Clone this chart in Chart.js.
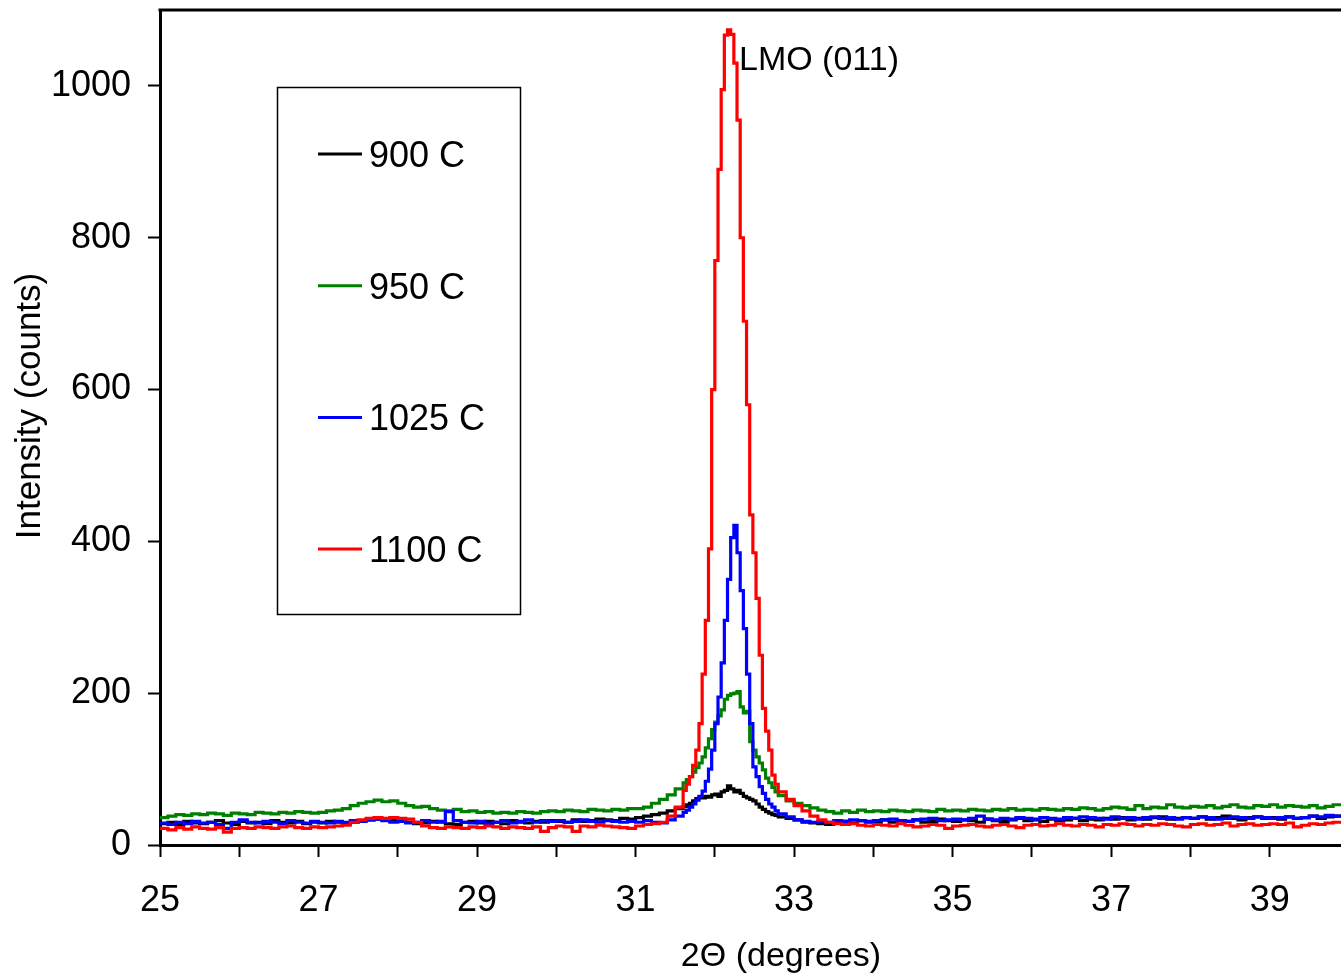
<!DOCTYPE html>
<html><head><meta charset="utf-8">
<script src="https://cdn.jsdelivr.net/npm/chart.js@4.4.0/dist/chart.umd.min.js"></script>
<style>html,body{margin:0;padding:0;background:#fff;overflow:hidden}canvas{display:block}</style>
</head><body>
<canvas id="c" width="1341" height="976"></canvas>
<script>
// 2-theta positions (degrees)
const twoTheta = [
  25.0,25.1,25.2,25.3,25.4,25.5,25.6,25.7,25.8,25.9,
  26.0,26.1,26.2,26.3,26.4,26.5,26.6,26.7,26.8,26.9,
  27.0,27.1,27.2,27.3,27.4,27.5,27.6,27.7,27.8,27.9,
  28.0,28.1,28.2,28.3,28.4,28.5,28.6,28.7,28.8,28.9,
  29.0,29.1,29.2,29.3,29.4,29.5,29.6,29.7,29.8,29.9,
  30.0,30.1,30.2,30.3,30.4,30.5,30.6,30.7,30.8,30.9,
  31.0,31.1,31.2,31.3,31.4,31.5,
  31.60,31.64,31.68,31.72,31.76,31.80,31.84,31.88,31.92,31.96,
  32.00,32.04,32.08,32.12,32.16,32.20,32.24,32.28,32.32,32.36,
  32.40,32.44,32.48,32.52,32.56,32.60,32.64,32.68,32.72,32.76,32.80,
  32.9,33.0,33.1,33.2,33.3,33.4,33.5,33.6,33.7,33.8,33.9,
  34.0,34.1,34.2,34.3,34.4,34.5,34.6,34.7,34.8,34.9,
  35.0,35.1,35.2,35.3,35.4,35.5,35.6,35.7,35.8,35.9,
  36.0,36.1,36.2,36.3,36.4,36.5,36.6,36.7,36.8,36.9,
  37.0,37.1,37.2,37.3,37.4,37.5,37.6,37.7,37.8,37.9,
  38.0,38.1,38.2,38.3,38.4,38.5,38.6,38.7,38.8,38.9,
  39.0,39.1,39.2,39.3,39.4,39.5,39.6,39.7,39.8,39.9
];

const seriesNames = ['900 C', '950 C', '1025 C', '1100 C'];
const seriesColors = ['#000000', '#008000', '#0000ff', '#ff0000'];

const counts900 = [
  28,30,27,31,29,28,30,32,29,27,
  31,29,30,28,32,30,29,31,28,30,
  29,31,30,28,30,32,33,34,33,32,
  31,30,28,29,31,30,28,27,30,31,
  29,31,30,28,32,30,29,31,30,32,
  31,30,33,31,32,34,33,32,35,34,
  36,38,40,42,45,48,
  51,53,55,58,61,63,62,64,63,66,
  67,64,70,72,78,74,70,72,68,64,
  62,60,58,54,50,47,44,42,40,39,37,
  35,33,30,29,28,27,30,31,29,32,30,
  31,33,30,32,31,33,30,31,34,32,
  31,33,32,30,34,32,31,33,35,32,
  33,31,34,32,33,35,32,34,33,35,
  34,36,33,35,34,36,37,34,35,36,
  35,37,34,36,38,35,33,36,37,35,
  36,34,37,35,36,38,35,37,38,40
];

const counts950 = [
  36,38,40,39,41,40,42,41,39,42,
  41,40,43,42,41,43,42,44,43,42,
  43,45,46,48,52,55,57,59,57,58,
  55,52,50,51,48,46,45,47,44,45,
  43,44,42,43,42,44,43,42,44,45,
  44,46,45,44,47,46,45,47,46,48,
  48,50,55,60,66,74,
  82,86,90,96,102,108,116,128,140,152,
  162,170,178,192,197,199,200,202,182,174,
  176,136,125,116,108,99,88,82,76,70,65,
  58,55,52,49,46,44,42,45,43,46,44,
  45,44,46,45,44,46,45,44,47,45,
  46,45,47,46,45,47,46,48,46,47,
  46,48,47,46,48,47,49,48,46,48,
  50,49,47,52,48,50,49,53,50,49,
  51,50,52,49,51,53,50,49,52,51,
  53,50,52,51,50,52,49,51,53,55
];

const counts1025 = [
  29,27,30,28,31,29,30,27,22,30,
  33,30,29,31,30,28,32,30,29,31,
  30,29,31,30,32,31,33,34,32,30,
  31,29,30,32,30,31,44,32,30,29,
  31,28,30,32,29,31,33,30,32,31,
  32,30,31,33,31,30,32,31,30,31,
  30,32,30,29,33,38,
  43,46,50,54,59,64,71,84,100,125,
  160,195,240,296,350,405,421,385,335,285,
  225,160,103,90,77,68,60,54,50,45,41,
  37,33,31,30,31,30,32,31,33,32,31,
  32,33,34,32,31,33,34,35,32,33,
  34,33,35,38,34,33,35,34,36,35,
  34,36,35,34,36,35,37,36,35,34,
  37,35,36,34,36,37,35,36,34,36,
  35,37,36,34,35,37,36,35,37,36,
  35,36,37,35,36,38,37,39,38,40
];

const counts1100 = [
  22,20,23,21,24,22,21,23,17,22,
  23,22,24,23,22,24,25,23,22,24,
  23,24,25,26,30,33,35,36,35,36,
  35,34,30,25,23,22,24,23,22,24,
  23,25,24,22,24,23,22,24,18,23,
  25,24,18,25,24,26,25,24,23,22,
  25,27,28,30,38,50,
  72,80,90,105,125,160,225,296,390,600,
  770,890,995,1067,1074,1068,1030,955,800,690,
  580,435,385,325,250,180,150,125,92,80,70,
  60,52,45,38,33,30,28,27,28,26,25,
  27,26,25,28,26,24,25,27,26,22,
  25,26,27,25,24,26,27,25,23,26,
  27,25,26,28,26,25,27,26,24,27,
  26,28,27,25,27,26,28,27,25,24,
  27,28,26,27,29,25,27,28,26,27,
  28,27,29,24,26,28,27,29,30,30
];

const xTickLabels = [25, 27, 29, 31, 33, 35, 37, 39];
const yTickLabels = [0, 200, 400, 600, 800, 1000];
const xTitle = '2\u0398 (degrees)';
const yTitle = 'Intensity (counts)';
const peakLabel = 'LMO (011)';

const FONT = "'Liberation Sans', Arial, sans-serif";
const allCounts = [counts900, counts950, counts1025, counts1100];

const datasets = allCounts.map((vals, k) => ({
  label: seriesNames[k],
  data: twoTheta.map((x, i) => ({ x: x, y: vals[i] })),
  borderColor: seriesColors[k],
  backgroundColor: seriesColors[k],
  borderWidth: 3.2,
  pointRadius: 0,
  stepped: true,
  fill: false,
  order: allCounts.length - 1 - k
}));

const overlay = {
  id: 'overlay',
  afterDraw(chart) {
    const ctx = chart.ctx;
    const a = chart.chartArea;
    ctx.save();
    // top frame line
    ctx.strokeStyle = '#000';
    ctx.lineWidth = 3;
    ctx.beginPath();
    ctx.moveTo(a.left - 1.5, a.top);
    ctx.lineTo(a.right, a.top);
    ctx.stroke();

    // legend box
    ctx.lineWidth = 1.5;
    ctx.strokeRect(277.5, 87.5, 243, 527);
    ctx.font = '36px ' + FONT;
    ctx.textBaseline = 'middle';
    ctx.textAlign = 'left';
    chart.data.datasets.forEach((ds, i) => {
      const y = 154 + i * 131.7;
      ctx.strokeStyle = ds.borderColor;
      ctx.lineWidth = 3;
      ctx.beginPath();
      ctx.moveTo(318, y);
      ctx.lineTo(362, y);
      ctx.stroke();
      ctx.fillStyle = '#000';
      ctx.fillText(ds.label, 369, y + 3);
    });

    // peak annotation
    ctx.font = '34px ' + FONT;
    ctx.textBaseline = 'alphabetic';
    ctx.fillText(peakLabel, 739, 70);

    // axis titles
    ctx.textAlign = 'center';
    ctx.font = '34px ' + FONT;
    ctx.fillText(xTitle, 781, 966);
    ctx.save();
    ctx.translate(40, 406);
    ctx.rotate(-Math.PI / 2);
    ctx.font = '35px ' + FONT;
    ctx.fillText(yTitle, 0, 0);
    ctx.restore();
    ctx.restore();
  }
};

new Chart(document.getElementById('c'), {
  type: 'line',
  data: { datasets: datasets },
  plugins: [overlay],
  options: {
    responsive: false,
    animation: false,
    devicePixelRatio: 1,
    layout: { padding: { top: 10, right: 0, bottom: 0, left: 0 } },
    plugins: { legend: { display: false }, tooltip: { enabled: false }, title: { display: false } },
    scales: {
      x: {
        type: 'linear', min: 25, max: 39.9,
        ticks: {
          stepSize: 1, includeBounds: false, autoSkip: false, maxRotation: 0, minRotation: 0,
          padding: 22, color: '#000', font: { family: FONT, size: 36 },
          callback: (v) => xTickLabels.includes(v) ? String(v) : ''
        },
        grid: { display: true, drawOnChartArea: false, drawTicks: true, tickLength: 12, tickColor: '#000', tickWidth: 2 },
        border: { display: true, color: '#000', width: 3 },
        afterFit(s) { s.height = 131; s.paddingLeft = 0; s.paddingRight = 0; }
      },
      y: {
        type: 'linear', min: 0, max: 1100,
        ticks: {
          stepSize: 200, includeBounds: false, autoSkip: false, padding: 17,
          color: '#000', font: { family: FONT, size: 36 },
          callback: (v) => yTickLabels.includes(v) ? String(v) : ''
        },
        grid: { display: true, drawOnChartArea: false, drawTicks: true, tickLength: 12, tickColor: '#000', tickWidth: 2 },
        border: { display: true, color: '#000', width: 3 },
        afterFit(s) { s.width = 160; s.paddingTop = 0; s.paddingBottom = 0; }
      }
    }
  }
});
</script>
</body></html>
